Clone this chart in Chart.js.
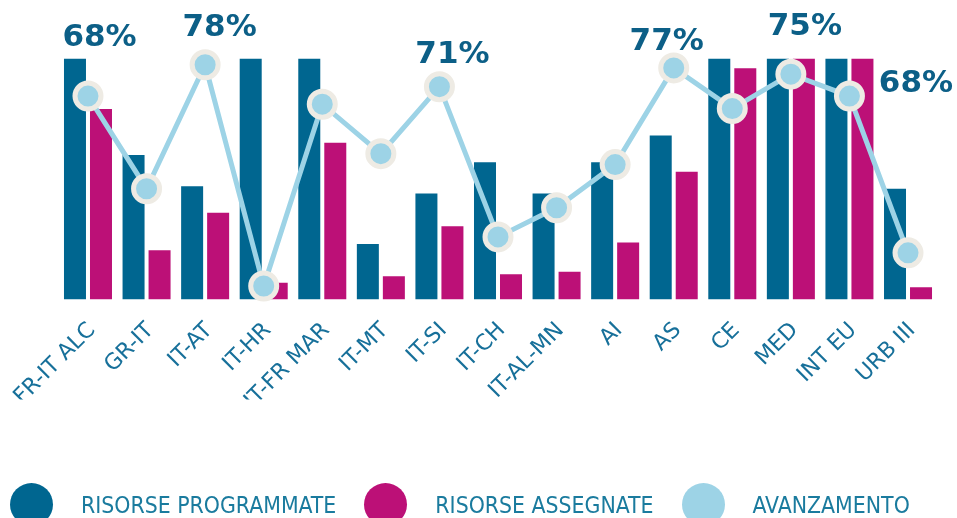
<!DOCTYPE html>
<html>
<head>
<meta charset="utf-8">
<script src="https://cdn.jsdelivr.net/npm/chart.js@4.4.0/dist/chart.umd.min.js"></script>
<style>
  html, body { margin: 0; padding: 0; background: #fff; }
  #wrap { position: relative; width: 957px; height: 518px; overflow: hidden; }
  #grafico { position: absolute; left: 0; top: 0; }
  #legenda { position: absolute; left: 10px; top: 483px; display: flex; align-items: center;
             font-family: "DejaVu Sans Condensed", "DejaVu Sans", sans-serif; font-size: 22.8px; color: #1a7b9e; }
  .voce { display: flex; align-items: center; margin-right: 28px; white-space: nowrap; }
  .pallino { width: 43px; height: 43px; border-radius: 50%; margin-right: 28px; }
</style>
</head>
<body>
<div id="wrap">
  <canvas id="grafico" width="957" height="518"></canvas>
  <div id="legenda"></div>
</div>
<script>
// Programmi e valori
const programmi = ['FR-IT ALC', 'GR-IT', 'IT-AT', 'IT-HR', 'IT-FR MAR', 'IT-MT', 'IT-SI', 'IT-CH',
                   'IT-AL-MN', 'AI', 'AS', 'CE', 'MED', 'INT EU', 'URB III'];
const risorseProgrammate = [100, 60, 47, 100, 100, 23, 44, 57, 44, 57, 68, 100, 100, 100, 46];
const risorseAssegnate = [79, 20.4, 36, 7, 65, 9.6, 30.4, 10.5, 11.5, 23.7, 53, 96, 100, 100, 5.1];
const avanzamento = [68, 38.4, 78, 7.3, 65.4, 49.6, 71, 23, 32.3, 46.1, 77, 64, 75, 68, 17.9];
// quali punti hanno l'etichetta in percentuale
const puntiEtichettati = [0, 2, 6, 10, 12, 13];

const COL_PROG = '#006690';
const COL_ASS = '#bc1077';
const COL_AVA = '#9dd3e6';

// spostamento delle etichette rispetto al punto (solo stile)
const spostamenti = {0: [11.5, -58.5], 2: [14.5, -36.5], 6: [13, -32], 10: [-7, -26], 12: [14, -47.5], 13: [66.5, -12.5]};

const etichettePercentuali = {
    id: 'etichettePercentuali',
    afterDatasetsDraw(chart) {
        const meta = chart.getDatasetMeta(2);
        const ctx = chart.ctx;
        ctx.save();
        ctx.font = 'bold 31px "DejaVu Sans", sans-serif';
        ctx.fillStyle = '#0c5f87';
        ctx.textAlign = 'center';
        ctx.textBaseline = 'middle';
        puntiEtichettati.forEach(i => {
            const p = meta.data[i];
            const off = spostamenti[i] || [0, -30];
            ctx.fillText(avanzamento[i] + '%', p.x + off[0], p.y + off[1]);
        });
        ctx.restore();
    }
};

const ctx = document.getElementById('grafico').getContext('2d');
const grafico = new Chart(ctx, {
    type: 'bar',
    data: {
        labels: programmi,
        datasets: [
            {
                label: 'RISORSE PROGRAMMATE',
                data: risorseProgrammate,
                backgroundColor: COL_PROG,
                categoryPercentage: 0.888,
                barPercentage: 0.846,
                yAxisID: 'y',
                order: 1
            },
            {
                label: 'RISORSE ASSEGNATE',
                data: risorseAssegnate,
                backgroundColor: COL_ASS,
                categoryPercentage: 0.888,
                barPercentage: 0.846,
                yAxisID: 'y',
                order: 1
            },
            {
                type: 'line',
                label: 'AVANZAMENTO',
                data: avanzamento,
                borderColor: COL_AVA,
                borderWidth: 5,
                pointRadius: 13,
                pointHoverRadius: 13,
                pointBorderWidth: 5,
                pointBackgroundColor: COL_AVA,
                pointBorderColor: '#eeebe4',
                yAxisID: 'y2',
                clip: false,
                order: 0
            }
        ]
    },
    options: {
        responsive: false,
        animation: false,
        events: [],
        layout: { padding: { left: 58.7, right: 19.7, top: 58.5, bottom: 118.5 } },
        plugins: {
            legend: { display: false },
            tooltip: { enabled: false }
        },
        scales: {
            x: {
                grid: { display: false, drawTicks: false },
                border: { display: false },
                ticks: {
                    autoSkip: false,
                    minRotation: 45,
                    maxRotation: 45,
                    padding: 18,
                    labelOffset: 4,
                    color: '#17709a',
                    font: { family: '"DejaVu Sans", sans-serif', size: 22 }
                },
                afterFit(scale) {
                    // area del grafico fissa, le etichette possono uscire a sinistra
                    scale.height = 100;
                    scale.paddingLeft = 0;
                    scale.paddingRight = 0;
                }
            },
            y: { display: false, min: 0, max: 100 },
            y2: { display: false, min: 3, max: 80 }
        }
    },
    plugins: [etichettePercentuali]
});

// legenda fatta a mano
const legenda = document.getElementById('legenda');
grafico.data.datasets.forEach(ds => {
    const voce = document.createElement('div');
    voce.className = 'voce';
    const pallino = document.createElement('span');
    pallino.className = 'pallino';
    pallino.style.background = ds.type === 'line' ? ds.borderColor : ds.backgroundColor;
    const testo = document.createElement('span');
    testo.textContent = ds.label;
    voce.appendChild(pallino);
    voce.appendChild(testo);
    legenda.appendChild(voce);
});
</script>
</body>
</html>
